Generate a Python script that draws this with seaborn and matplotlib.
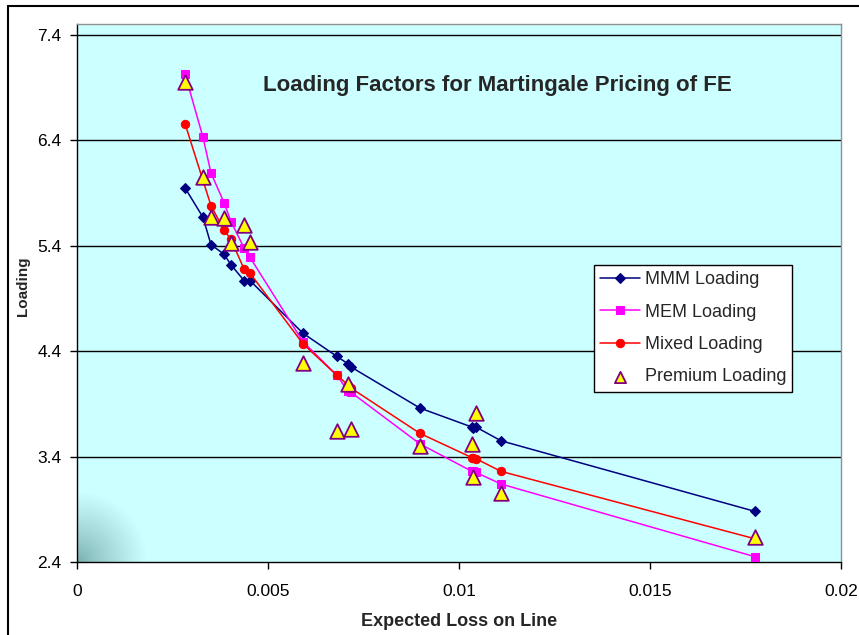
import numpy as np
import pandas as pd
import matplotlib
matplotlib.use("Agg")
import matplotlib.pyplot as plt
from matplotlib.lines import Line2D
import seaborn as sns

# ---- data ----
expected_loss = [0.002827, 0.003298, 0.003508, 0.003848, 0.004031, 0.004372, 0.004529,
                 0.005916, 0.006806, 0.007094, 0.007173, 0.008979, 0.010340, 0.010366,
                 0.010445, 0.011099, 0.017749]
mmm_loading = [5.95, 5.67, 5.41, 5.32, 5.22, 5.07, 5.07,
               4.57, 4.35, 4.28, 4.25, 3.86, 3.68, 3.67,
               3.68, 3.55, 2.88]
mem_loading = [7.03, 6.43, 6.09, 5.81, 5.63, 5.38, 5.29,
               4.49, 4.17, 4.02, 4.01, 3.52, 3.26, 3.26,
               3.25, 3.14, 2.45]
mixed_loading = [6.56, 6.02, 5.78, 5.55, 5.46, 5.18, 5.14,
                 4.47, 4.17, 4.08, 4.05, 3.62, 3.39, 3.39,
                 3.38, 3.26, 2.62]
premium_loading = [6.95, 6.05, 5.67, 5.66, 5.43, 5.60, 5.44,
                   4.29, 3.64, 4.09, 3.66, 3.50, 3.52, 3.21,
                   3.81, 3.05, 2.64]
x_ticks = [0, 0.005, 0.01, 0.015, 0.02]
x_tick_labels = ["0", "0.005", "0.01", "0.015", "0.02"]
y_ticks = [2.4, 3.4, 4.4, 5.4, 6.4, 7.4]
y_tick_labels = ["2.4", "3.4", "4.4", "5.4", "6.4", "7.4"]

df = pd.DataFrame({"x": expected_loss, "MMM": mmm_loading, "MEM": mem_loading,
                   "Mixed": mixed_loading, "Premium": premium_loading})

sns.set_style("white")
plt.rcParams["font.family"] = ["Liberation Sans", "DejaVu Sans"]

fig = plt.figure(figsize=(8.59, 6.35), dpi=100)
fig.patch.set_facecolor("white")
ax = fig.add_axes([77 / 859, 1 - 562 / 635, 764 / 859, 538 / 635])

YMIN, YMAX = 2.4, 7.504
XMIN, XMAX = 0.0, 0.02

# background with soft shading in lower-left corner
H, W = 538, 764
rr, cc = np.mgrid[0:H, 0:W]
d = np.sqrt((H - 1 - rr) ** 2 + cc ** 2)
t = np.clip(d / 70.0, 0, 1) ** 0.8
dark = np.array([0.47, 0.68, 0.68])
light = np.array([0.80, 1.0, 1.0])
img = dark[None, None, :] * (1 - t[..., None]) + light[None, None, :] * t[..., None]
ax.imshow(img, extent=[XMIN, XMAX, YMIN, YMAX], aspect="auto", origin="upper",
          zorder=0, interpolation="bilinear")

# gridlines
for yv in y_ticks[1:]:
    ax.axhline(yv, color="black", lw=1.0, zorder=1)

line_kw = dict(estimator=None, sort=False, linewidth=1.1, ax=ax, clip_on=False)
sns.lineplot(data=df, x="x", y="MMM", color="#000080", marker="D", markersize=5.5,
             markeredgecolor="#000080", label="MMM Loading", zorder=3, **line_kw)
sns.lineplot(data=df, x="x", y="MEM", color="#FF00FF", marker="s", markersize=5.5,
             markeredgecolor="#FF00FF", label="MEM Loading", zorder=3, **line_kw)
sns.lineplot(data=df, x="x", y="Mixed", color="#FF0000", marker="o", markersize=6,
             markeredgecolor="#FF0000", label="Mixed Loading", zorder=3, **line_kw)
sns.scatterplot(data=df, x="x", y="Premium", marker="^", s=110, color="#FFFF00",
                edgecolor="#800080", linewidth=1.3, label="Premium Loading",
                zorder=4, ax=ax, clip_on=False)

ax.set_xlim(XMIN, XMAX)
ax.set_ylim(YMIN, YMAX)
ax.set_xticks(x_ticks)
ax.set_xticklabels(x_tick_labels)
ax.set_yticks(y_ticks)
ax.set_yticklabels(y_tick_labels)
ax.tick_params(axis="both", direction="out", length=5, width=1, labelsize=12.5,
               colors="black")
ax.tick_params(axis="x", pad=11)
ax.tick_params(axis="y", pad=6)
ax.tick_params(bottom=True, left=True)

for s in ["left", "bottom"]:
    ax.spines[s].set_color("black")
    ax.spines[s].set_linewidth(1.0)
for s in ["top", "right"]:
    ax.spines[s].set_color("#909090")
    ax.spines[s].set_linewidth(1.0)

ax.set_xlabel("Expected Loss on Line", fontsize=13, fontweight="bold")
ax.xaxis.label.set_va("center")
ax.xaxis.set_label_coords(0.5, (562 - 621) / 538)
ax.set_ylabel("Loading", fontsize=11, fontweight="bold")
ax.yaxis.label.set_va("center")
ax.yaxis.set_label_coords((23 - 77) / 764, (562 - 286) / 538)

ax.text((497 - 77) / 764, (562 - 86) / 538, "Loading Factors for Martingale Pricing of FE",
        transform=ax.transAxes, ha="center", va="center", fontsize=16,
        fontweight="bold", zorder=5)

leg = ax.legend(loc="upper left", bbox_to_anchor=((594 - 77) / 764, (562 - 265) / 538),
                borderaxespad=0, fontsize=13, frameon=True, fancybox=False,
                facecolor="white", framealpha=1, edgecolor="black",
                handlelength=2.2, handletextpad=0.25, labelspacing=0.85,
                borderpad=0.35)
leg.get_frame().set_linewidth(1.0)
leg.set_zorder(6)
try:
    leg.legend_handles[3].set_sizes([65])
except Exception:
    pass

# outer chart frame
fig.add_artist(Line2D([8 / 859, 1.0], [1 - 6 / 635, 1 - 6 / 635],
                      transform=fig.transFigure, color="black", lw=1.5))
fig.add_artist(Line2D([8 / 859, 8 / 859], [1 - 6 / 635, 0.0],
                      transform=fig.transFigure, color="black", lw=1.5))

fig.savefig("out.png", dpi=100)
